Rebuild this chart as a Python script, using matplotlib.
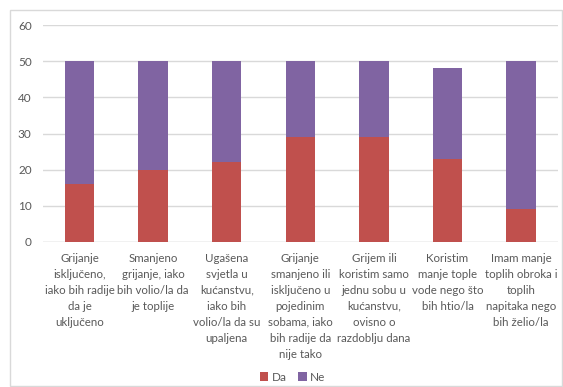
import matplotlib.pyplot as plt
from matplotlib.patches import Rectangle

categories = [
    "Grijanje\nisključeno,\niako bih radije\nda je\nuključeno",
    "Smanjeno\ngrijanje, iako\nbih volio/la da\nje toplije",
    "Ugašena\nsvjetla u\nkućanstvu,\niako bih\nvolio/la da su\nupaljena",
    "Grijanje\nsmanjeno ili\nisključeno u\npojedinim\nsobama, iako\nbih radije da\nnije tako",
    "Grijem ili\nkoristim samo\njednu sobu u\nkućanstvu,\novisno o\nrazdoblju dana",
    "Koristim\nmanje tople\nvode nego što\nbih htio/la",
    "Imam manje\ntoplih obroka i\ntoplih\nnapitaka nego\nbih želio/la",
]
da = [16, 20, 22, 29, 29, 23, 9]
ne = [34, 30, 28, 21, 21, 25, 41]
yticks = [0, 10, 20, 30, 40, 50, 60]

plt.rcParams['font.family'] = ['Lato', 'DejaVu Sans']
txt = '#595959'

fig = plt.figure(figsize=(5.63, 3.87), dpi=100)
ax = fig.add_axes([0.076, 0.375, 0.915, 0.56])

x = list(range(len(categories)))
ax.bar(x, da, width=0.4, color='#C0504D', label='Da', zorder=3)
ax.bar(x, ne, width=0.4, bottom=da, color='#8064A2', label='Ne', zorder=3)

ax.set_ylim(0, 60)
ax.set_xlim(-0.5, len(categories) - 0.5)
ax.set_yticks(yticks)
ax.yaxis.grid(True, color='#D9D9D9', linewidth=1, zorder=0)
for s in ax.spines.values():
    s.set_visible(False)
ax.axhline(0, color='#D9D9D9', linewidth=1, zorder=2)
ax.tick_params(axis='both', length=0, colors=txt, labelsize=8.5)
ax.tick_params(axis='y', pad=8)
ax.set_xticks(x)
ax.set_xticklabels(categories, fontsize=8.3, color=txt, linespacing=1.55)
ax.tick_params(axis='x', pad=8)

fig.legend(loc='lower center', bbox_to_anchor=(0.52, -0.016), ncol=2, frameon=False,
           fontsize=8.5, handlelength=0.7, handleheight=0.7, handletextpad=0.3,
           columnspacing=1.0, labelcolor=txt)

fig.patches.append(Rectangle((10 / 563, 0.003), 552 / 563, 1 - 10 / 387 - 0.003,
                             transform=fig.transFigure, fill=False,
                             edgecolor='#D9D9D9', linewidth=1))

fig.savefig('out.png', dpi=100)
